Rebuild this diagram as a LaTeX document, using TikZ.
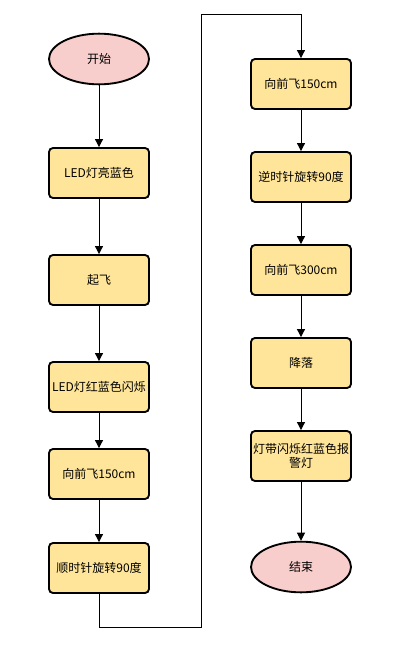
\documentclass[tikz,border=0pt]{standalone}
\usepackage{fontspec}
\newfontfamily\cjk{Noto Sans CJK SC}
\usepackage{tikz}
\usetikzlibrary{arrows.meta,shapes.geometric}

\definecolor{termfill}{HTML}{F8CECC}
\definecolor{stepfill}{HTML}{FFE599}

\tikzset{
  terminal/.style={ellipse, draw, line width=1.4pt, fill=termfill, minimum width=75pt, minimum height=38pt, inner sep=0pt, font=\cjk\fontsize{9}{11}\selectfont},
  stepbox/.style={rectangle, rounded corners=3pt, draw, line width=1.4pt, fill=stepfill, minimum width=75pt, minimum height=37.5pt, inner sep=1pt, align=center, font=\cjk\fontsize{9}{11}\selectfont},
  flow/.style={draw, line width=0.75pt, -{Triangle[length=6pt,width=6pt]}}
}

\begin{document}
\begin{tikzpicture}[x=0.75pt,y=0.75pt,yscale=-1,xscale=1]
        \useasboundingbox (0,0) rectangle (408,657);

        % left column
        \node (start) [terminal] at (99,59) {开始};
        \node (blue) [stepbox] at (99,173) {LED灯亮蓝色};
        \node (takeoff) [stepbox] at (99,280) {起飞};
        \node (blink) [stepbox] at (99,387) {LED灯红蓝色闪烁};
        \node (fwdA) [stepbox] at (99,474) {向前飞150cm};
        \node (cw) [stepbox] at (99,568) {顺时针旋转90度};

        % right column
        \node (fwdB) [stepbox] at (301,84) {向前飞150cm};
        \node (ccw) [stepbox] at (301,177) {逆时针旋转90度};
        \node (fwdC) [stepbox] at (301,270) {向前飞300cm};
        \node (land) [stepbox] at (301,363) {降落};
        \node (alarm) [stepbox] at (301,456) {灯带闪烁红蓝色报\\警灯};
        \node (stop) [terminal] at (301,567) {结束};

        \coordinate (loopA) at (201,627);
        \coordinate (loopB) at (201,14);

        \draw [flow] (start) -- (blue);
        \draw [flow] (blue) -- (takeoff);
        \draw [flow] (takeoff) -- (blink);
        \draw [flow] (blink) -- (fwdA);
        \draw [flow] (fwdA) -- (cw);
        \draw [flow] (cw.south) |- (loopA) -- (loopB) -| (fwdB.north);
        \draw [flow] (fwdB) -- (ccw);
        \draw [flow] (ccw) -- (fwdC);
        \draw [flow] (fwdC) -- (land);
        \draw [flow] (land) -- (alarm);
        \draw [flow] (alarm) -- (stop);
\end{tikzpicture}
\end{document}
